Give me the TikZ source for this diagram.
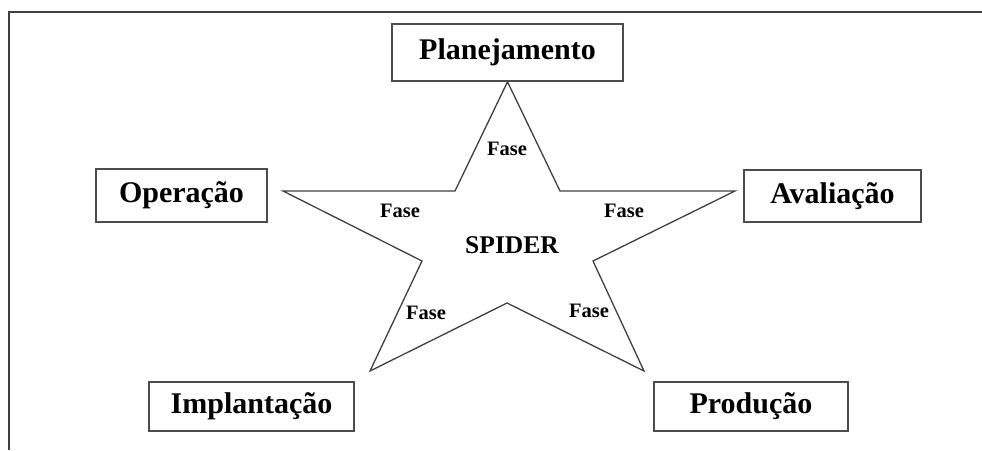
\documentclass[tikz,border=0pt]{standalone}
\usepackage{fontspec}
\setmainfont{Liberation Serif}
\begin{document}
\begin{tikzpicture}[x=1pt,y=-1pt,
  phasebox/.style={draw=black!70,line width=1.6pt,fill=white,inner sep=0pt,
    font=\fontsize{30}{32}\selectfont\bfseries},
  fase/.style={font=\fontsize{20.5}{22}\selectfont\bfseries,inner sep=0pt},
  starline/.style={draw=black!75,line width=1.3pt,line join=miter}]
\useasboundingbox (0,0) rectangle (982,450);
% frame
\draw[black!75,line width=2.6pt] (9,450) -- (9,12) -- (982,12);
% boxes
\node[phasebox,minimum width=231pt,minimum height=57pt] (plan) at (507.5,52.5) {Planejamento};
\node[phasebox,minimum width=171pt,minimum height=53pt] (oper) at (181.5,195.5) {Operação};
\node[phasebox,minimum width=177pt,minimum height=52pt] (aval) at (832.5,196) {Avaliação};
\node[phasebox,minimum width=205pt,minimum height=49pt] (impl) at (251.5,406.5) {Implantação};
\node[phasebox,minimum width=194pt,minimum height=49pt] (prod) at (751,406.5) {Produção};
% star
\coordinate (t) at (plan.south);
\coordinate (ul) at (455,191);
\coordinate (l) at (283,191);
\coordinate (ll) at (422,261);
\coordinate (bl) at (370,371);
\coordinate (b) at (507,303);
\coordinate (br) at (644,371);
\coordinate (lr) at (593,261);
\coordinate (r) at (735,191);
\coordinate (ur) at (560,191);
\draw[starline] (t) -- (ul) -- (l) -- (ll) -- (bl) -- (b) -- (br) -- (lr) -- (r) -- (ur) -- cycle;
% labels
\node[fase] (f1) at (507,149) {Fase};
\node[fase] (f2) at (400,211) {Fase};
\node[fase] (f3) at (624,211) {Fase};
\node[fase] (f4) at (426,313) {Fase};
\node[fase] (f5) at (589,311) {Fase};
\node[font=\fontsize{25.5}{27}\selectfont\bfseries,inner sep=0pt] (spider) at (512,245) {SPIDER};
\end{tikzpicture}
\end{document}
